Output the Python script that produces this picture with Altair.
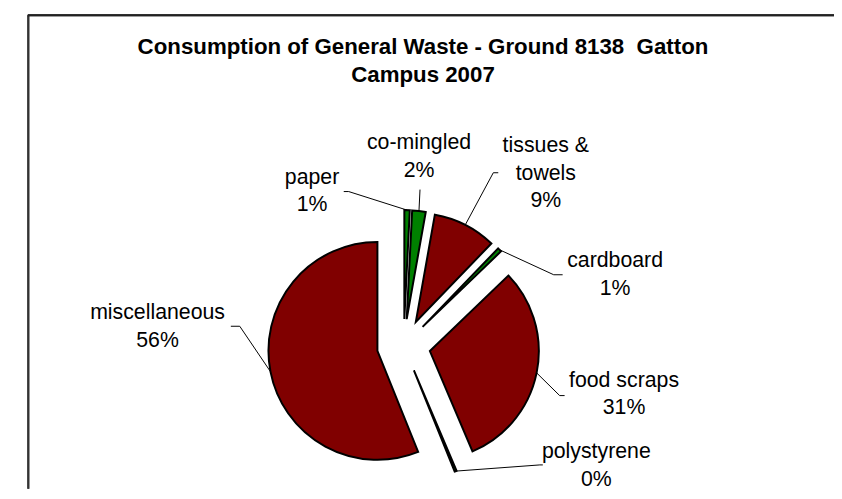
import altair as alt
import numpy as np
import pandas as pd

# ---- data ----
categories = ["paper", "co-mingled", "tissues & towels", "cardboard",
              "food scraps", "polystyrene", "miscellaneous"]
shares = [0.8, 2.0, 9.4, 0.6, 30.8, 0.3, 56.1]
label_lines = [["paper"], ["co-mingled"], ["tissues &", "towels"], ["cardboard"],
               ["food scraps"], ["polystyrene"], ["miscellaneous"]]
title_lines = ["Consumption of General Waste - Ground 8138\u00a0 Gatton", "Campus 2007"]

# ---- styles / layout ----
slice_colors = ["#008000", "#008000", "#800000", "#008000", "#800000", "#008000", "#800000"]
FONT = "Liberation Sans"
W, H = 834, 483
CX, CY = 399.5, 338.7
R = 110
EXPLODE = 27
# label anchor (centre x, first baseline y) and leader elbow / end points
label_pos = [(307, 175), (415, 140), (543, 143), (613, 259), (622, 380), (594, 452), (151, 312)]
leader_elbow = [(344, 183), (416, 181), (490, 164), (551, 267), (557, 389), (537, 459), (234, 319)]
leader_end = [(339, 183), (416, 181), (495, 164), (560, 267), (562, 389), (540, 459), (225, 319)]

# ---- derived tables ----
df = pd.DataFrame({"category": categories, "share": shares, "color": slice_colors})
total = df["share"].sum()
df["end"] = df["share"].cumsum() / total * 2 * np.pi
df["start"] = df["end"] - df["share"] / total * 2 * np.pi
df["mid"] = (df["start"] + df["end"]) / 2
df["cx"] = CX + EXPLODE * np.sin(df["mid"])
df["cy"] = CY - EXPLODE * np.cos(df["mid"])

labels = pd.DataFrame({
    "category": categories,
    "text": [lines + [f"{round(s)}%"] for lines, s in zip(label_lines, shares)],
    "x": [p[0] for p in label_pos],
    "y": [p[1] for p in label_pos],
})

rows = []
for i, row in df.iterrows():
    ex = CX + (EXPLODE + R) * np.sin(row["mid"])
    ey = CY - (EXPLODE + R) * np.cos(row["mid"])
    rows.append({"category": row["category"], "o": 0, "x": ex, "y": ey})
    rows.append({"category": row["category"], "o": 1, "x": leader_elbow[i][0], "y": leader_elbow[i][1]})
    rows.append({"category": row["category"], "o": 2, "x": leader_end[i][0], "y": leader_end[i][1]})
leaders = pd.DataFrame(rows)

titles = pd.DataFrame({"t": title_lines, "x": [419, 419], "y": [44, 72]})

arcs = alt.Chart(df).mark_arc(outerRadius=R, stroke="black", strokeWidth=2).encode(
    x=alt.X("cx:Q", scale=None),
    y=alt.Y("cy:Q", scale=None),
    theta=alt.Theta("start:Q", scale=None),
    theta2=alt.Theta2("end:Q"),
    color=alt.Color("color:N", scale=None),
)

lead = alt.Chart(leaders).mark_line(color="black", strokeWidth=1).encode(
    x=alt.X("x:Q", scale=None),
    y=alt.Y("y:Q", scale=None),
    detail="category:N",
    order="o:Q",
)

text = alt.Chart(labels).mark_text(
    font=FONT, fontSize=21.5, align="center", baseline="alphabetic",
    lineHeight=28, color="black"
).encode(
    x=alt.X("x:Q", scale=None),
    y=alt.Y("y:Q", scale=None),
    text="text",
)

title = alt.Chart(titles).mark_text(
    font=FONT, fontSize=22.5, fontWeight="bold", align="center", baseline="alphabetic", color="black"
).encode(
    x=alt.X("x:Q", scale=None),
    y=alt.Y("y:Q", scale=None),
    text="t:N",
)

border_left = alt.Chart(titles).mark_rule(color="#333333", strokeWidth=2).encode(
    x=alt.value(20.5), y=alt.value(5), y2=alt.value(H)
)
border_top = alt.Chart(titles).mark_rule(color="#222222", strokeWidth=2).encode(
    x=alt.value(20), x2=alt.value(W), y=alt.value(5)
)

chart = alt.layer(border_left, border_top, lead, arcs, text, title).properties(
    width=W, height=H, padding=0, autosize=alt.AutoSizeParams(type="none")
).configure_view(stroke=None)

chart.save("out.html", embed_options={"renderer": "svg", "actions": False})
